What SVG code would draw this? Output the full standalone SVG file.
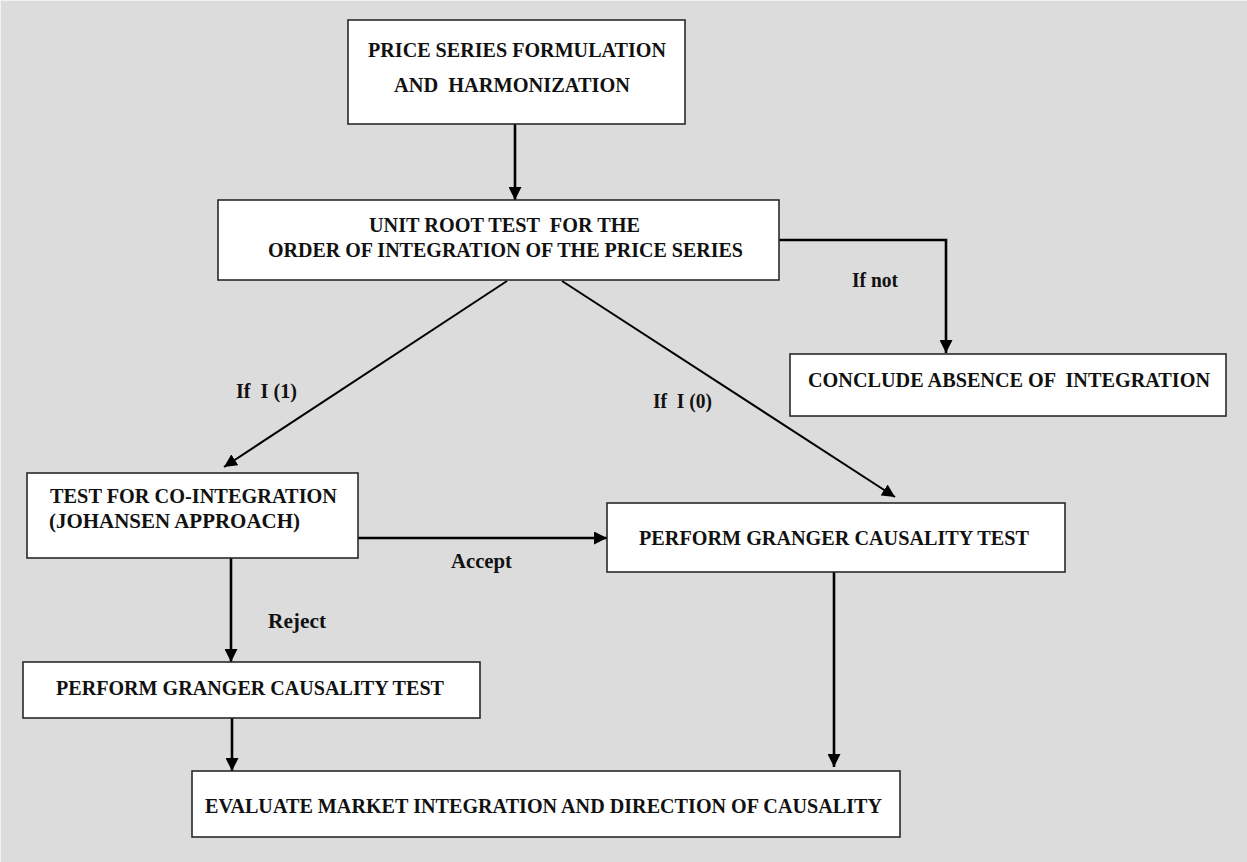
<svg xmlns="http://www.w3.org/2000/svg" width="1247" height="862" viewBox="0 0 1247 862">
<style>
.bg{fill:#dcdcdc}
.box{fill:#ffffff;stroke:#2a2a2a;stroke-width:1.6}
.t{font-family:"Liberation Serif","Times New Roman",serif;font-weight:bold;font-size:22px;fill:#111111;white-space:pre}
.c{fill:none;stroke:#000000;stroke-width:2.6}
.d{fill:none;stroke:#000000;stroke-width:2}
</style>
<defs>
<marker id="ah" markerUnits="userSpaceOnUse" markerWidth="13" markerHeight="13" viewBox="0 0 13 13" refX="13" refY="6.5" orient="auto">
<path d="M0,0 L13,6.5 L0,13 z" fill="#000000"/>
</marker>
</defs>
<rect class="bg" x="0" y="0" width="1247" height="862"/>
<line x1="0" y1="0.5" x2="1247" y2="0.5" stroke="#f2f2f2" stroke-width="1"/>
<line x1="0.5" y1="0" x2="0.5" y2="862" stroke="#f2f2f2" stroke-width="1"/>

<g id="connectors">
<path class="c" d="M515,124 L515,200" marker-end="url(#ah)"/>
<path class="c" d="M779,240 H946 V353" marker-end="url(#ah)"/>
<path class="d" d="M507,281 L224,467" marker-end="url(#ah)"/>
<path class="d" d="M562,281 L895,497" marker-end="url(#ah)"/>
<path class="c" d="M358,538 L607,538" marker-end="url(#ah)"/>
<path class="c" d="M231,558 L231,662" marker-end="url(#ah)"/>
<path class="c" d="M232,718 L232,771" marker-end="url(#ah)"/>
<path class="c" d="M834,572 L834,767" marker-end="url(#ah)"/>
<text class="t" x="852" y="287" textLength="46" lengthAdjust="spacingAndGlyphs">If not</text>
<text class="t" x="236" y="398" textLength="61" lengthAdjust="spacingAndGlyphs">If  I (1)</text>
<text class="t" x="653" y="408" textLength="59" lengthAdjust="spacingAndGlyphs">If  I (0)</text>
<text class="t" x="451" y="568" textLength="61" lengthAdjust="spacingAndGlyphs">Accept</text>
<text class="t" x="268" y="628" textLength="58" lengthAdjust="spacingAndGlyphs">Reject</text>
</g>

<g id="n1">
<rect class="box" x="348" y="20" width="337" height="104"/>
<text class="t" x="368" y="57" textLength="298" lengthAdjust="spacingAndGlyphs">PRICE SERIES FORMULATION</text>
<text class="t" x="394" y="92" textLength="236" lengthAdjust="spacingAndGlyphs">AND  HARMONIZATION</text>
</g>

<g id="n2">
<rect class="box" x="218" y="200" width="561" height="80"/>
<text class="t" x="369" y="232" textLength="271" lengthAdjust="spacingAndGlyphs">UNIT ROOT TEST  FOR THE</text>
<text class="t" x="268" y="257" textLength="475" lengthAdjust="spacingAndGlyphs">ORDER OF INTEGRATION OF THE PRICE SERIES</text>
</g>

<g id="n3">
<rect class="box" x="790" y="354" width="436" height="62"/>
<text class="t" x="808" y="387" textLength="402" lengthAdjust="spacingAndGlyphs">CONCLUDE ABSENCE OF  INTEGRATION</text>
</g>

<g id="n4">
<rect class="box" x="27" y="473" width="331" height="85"/>
<text class="t" x="50" y="503" textLength="287" lengthAdjust="spacingAndGlyphs">TEST FOR CO-INTEGRATION</text>
<text class="t" x="49" y="528" textLength="251" lengthAdjust="spacingAndGlyphs">(JOHANSEN APPROACH)</text>
</g>

<g id="n5">
<rect class="box" x="607" y="503" width="458" height="69"/>
<text class="t" x="639" y="545" textLength="390" lengthAdjust="spacingAndGlyphs">PERFORM GRANGER CAUSALITY TEST</text>
</g>

<g id="n6">
<rect class="box" x="23" y="662" width="457" height="56"/>
<text class="t" x="56" y="695" textLength="388" lengthAdjust="spacingAndGlyphs">PERFORM GRANGER CAUSALITY TEST</text>
</g>

<g id="n7">
<rect class="box" x="192" y="771" width="708" height="66"/>
<text class="t" x="205" y="813" textLength="677" lengthAdjust="spacingAndGlyphs">EVALUATE MARKET INTEGRATION AND DIRECTION OF CAUSALITY</text>
</g>
</svg>
